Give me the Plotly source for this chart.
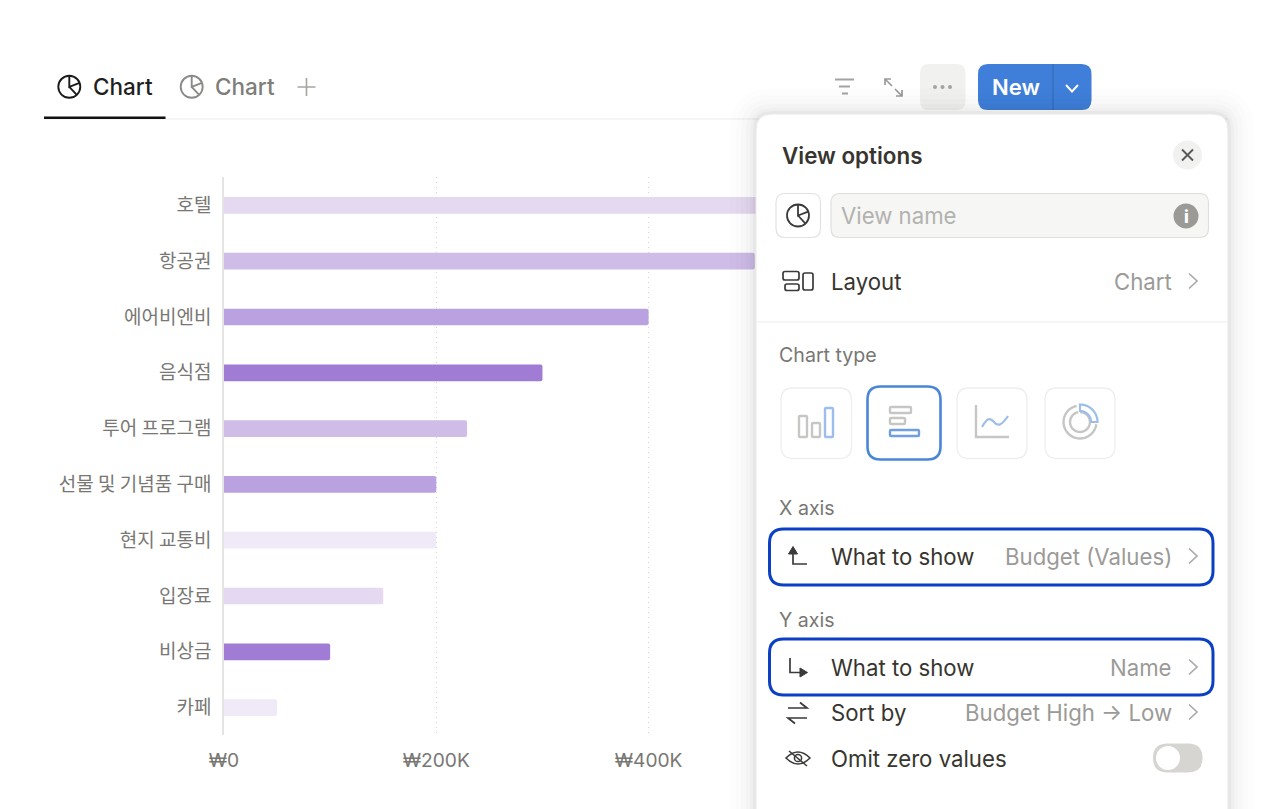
import math
import re
import plotly.graph_objects as go

# ---- chart data ----
categories = ["호텔", "항공권", "에어비엔비", "음식점", "투어 프로그램",
              "선물 및 기념품 구매", "현지 교통비", "입장료", "비상금", "카페"]
budget_k = [600, 500, 400, 300, 229, 200, 200, 150, 100, 50]
bar_colors = ["#E4D9F1", "#CFBDE8", "#BAA1E0", "#A07CD5", "#CFBDE8",
              "#BAA1E0", "#F0EAF8", "#E4D9F1", "#A07CD5", "#F0EAF8"]
tick_values = [0, 200, 400]
tick_labels = ["₩0", "₩200K", "₩400K"]

W, H = 1280, 809
L, R, T, B = 224, 0, 177, 74
PW, PH = W - L - R, H - T - B
LATIN = "Inter, 'Noto Sans', sans-serif"
CJK = "'Noto Sans CJK KR', 'Noto Sans', sans-serif"
INK, MUTED, FAINT = "#37352F", "#787774", "#9B9A97"


def px(x):
    return (x - L) / PW


def py(y):
    return (H - B - y) / PH


def P(d):
    """Pixel-space SVG path to paper-space path (absolute M/L/C/Q/Z only)."""
    out, is_x = [], True
    for tok in re.findall(r"[A-Za-z]|-?[\d.]+", d):
        if tok.isalpha():
            out.append(tok)
            is_x = True
        else:
            v = float(tok)
            out.append(f"{px(v) if is_x else py(v):.5f}")
            is_x = not is_x
    return " ".join(out)


shapes, notes = [], []


def path(d, line=None, width=1.5, fill=None):
    shapes.append(dict(type="path", xref="paper", yref="paper", layer="above", path=P(d),
                       fillcolor=fill or "rgba(0,0,0,0)",
                       line=dict(color=line or "rgba(0,0,0,0)", width=width if line else 0)))


def rr(x0, y0, x1, y1, r, line=None, width=1.5, fill=None):
    d = (f"M {x0+r} {y0} L {x1-r} {y0} Q {x1} {y0} {x1} {y0+r} L {x1} {y1-r} Q {x1} {y1} {x1-r} {y1} "
         f"L {x0+r} {y1} Q {x0} {y1} {x0} {y1-r} L {x0} {y0+r} Q {x0} {y0} {x0+r} {y0} Z")
    path(d, line, width, fill)


def circle(cx, cy, r, line=None, width=1.5, fill=None):
    shapes.append(dict(type="circle", xref="paper", yref="paper", layer="above",
                       x0=px(cx - r), x1=px(cx + r), y0=py(cy + r), y1=py(cy - r),
                       fillcolor=fill or "rgba(0,0,0,0)",
                       line=dict(color=line or "rgba(0,0,0,0)", width=width if line else 0)))


def arc(cx, cy, r, a0, a1, n=24):
    pts = []
    for i in range(n + 1):
        a = math.radians(a0 + (a1 - a0) * i / n)
        pts.append((cx + r * math.sin(a), cy - r * math.cos(a)))
    return pts


def poly(pts, close=False):
    s = "M " + " L ".join(f"{x:.2f} {y:.2f}" for x, y in pts)
    return s + (" Z" if close else "")


def text(x, y, s, size=22.2, color=INK, anchor="left", weight=400, family=LATIN):
    notes.append(dict(xref="paper", yref="paper", x=px(x), y=py(y), text=s, showarrow=False,
                      xanchor=anchor, yanchor="middle", borderpad=0,
                      font=dict(family=family, size=size, color=color, weight=weight)))


def pie(cx, cy, r, color, width=1.8):
    circle(cx, cy, r, color, width)
    path(f"M {cx} {cy-r} L {cx} {cy} L {cx+r*0.93} {cy-r*0.36}", color, width)
    path(f"M {cx} {cy} L {cx+r*0.68} {cy+r*0.74}", color, width)


def chevron(y, x=1189):
    path(f"M {x} {y-7.5} L {x+8} {y} L {x} {y+7.5}", "#ABABA8", 1.7)


# ---- tabs and toolbar ----
path("M 44 119 L 1228 119", "#EBEBE9", 1.2)
path("M 44 117.8 L 165.5 117.8", "#111111", 2.6)
pie(69.3, 86.8, 11, "#1A1A1A", 1.9)
text(91.5, 87, "Chart", 22.5, "#1F1F1F", weight=500)
pie(191.7, 86.8, 11, "#8A8A87", 1.9)
text(214, 87, "Chart", 22.5, "#7E7D7A", weight=500)
path("M 306.5 78 L 306.5 96 M 297.5 87 L 315.5 87", "#A5A5A2", 1.6)

path("M 835 79.5 L 854 79.5", "#A3A3A0", 2)
path("M 839 86.5 L 850 86.5", "#A3A3A0", 2)
path("M 842 93.5 L 848 93.5", "#A3A3A0", 2)
path("M 885 85 L 885 79 L 891 79 M 885 79 L 892 86", "#9A9A97", 1.7)
path("M 902 90 L 902 96 L 896 96 M 902 96 L 895 89", "#9A9A97", 1.7)
rr(920, 64, 965.5, 110, 9, fill="#F1F1EF")
for dot_x in (935, 942.5, 950):
    circle(dot_x, 87, 2, fill="#A3A3A0")
rr(978, 64, 1091.5, 110, 10, fill="#3F7FDA")
path("M 1053 64 L 1053 110", "#3369B8", 1.2)
text(1015.5, 87, "New", 22, "#FFFFFF", "center", 600)
path("M 1066 85 L 1072 91.5 L 1078 85", "#FFFFFF", 1.9)

# ---- panel: soft shadow, then body ----
for grow, alpha in ((26, .006), (20, .008), (15, .010), (10, .014), (6, .02), (3, .03)):
    rr(756 - grow, 114 - grow, 1228 + grow, 860, 16 + grow, fill=f"rgba(15,15,15,{alpha})")
rr(756, 114, 1228, 860, 16, "#E9E9E7", 1, "#FFFFFF")

text(781, 155.5, "View options", 22.4, INK, weight=600)
circle(1187.5, 155, 14.5, fill="#F1F1EF")
path("M 1182 149.5 L 1193 160.5 M 1193 149.5 L 1182 160.5", "#5A5956", 1.9)

rr(776, 193.5, 820.5, 237.5, 9, "#E2E2E0", 1.2, "#FFFFFF")
pie(798, 215.5, 11, "#3A3A38", 1.8)
rr(831, 193.5, 1208.5, 237.5, 9, "#DFDFDC", 1.2, "#F6F6F4")
text(840, 215.5, "View name", 22.2, "#B2B2AF")
circle(1186, 216, 12.5, fill="#9B9A97")
text(1186, 216.5, "i", 17, "#FFFFFF", "center", 800)

rr(783, 271.5, 799, 280, 2, "#3A3A38", 1.7)
rr(785, 284, 799, 290.5, 2, "#3A3A38", 1.7)
rr(803, 273, 813, 290, 2, "#3A3A38", 1.7)
text(830, 281, "Layout")
text(1173, 281, "Chart", color=FAINT, anchor="right")
chevron(281)
path("M 756 322 L 1228 322", "#EDEDEB", 1.2)

text(778, 354.5, "Chart type", 19.6, MUTED)
for x0, x1 in ((781, 851.5), (957, 1027), (1045, 1115)):
    rr(x0, 388, x1, 458.5, 12, "#EEEEEC", 1.3, "#FFFFFF")
rr(867.5, 386.5, 940.5, 459.5, 13, "#4A86D8", 2.6, "#FFFFFF")

GREY, BLUE = "#C6C6C4", "#9DBDEA"
rr(799, 416, 807, 437, 1, GREY, 2.4)
rr(812, 423, 820, 437, 1, GREY, 2.4)
rr(825, 408, 833, 437, 1, BLUE, 2.4)
rr(890, 407, 911, 413, 1, GREY, 2.4)
rr(890, 418, 905, 424, 1, GREY, 2.4)
rr(890, 430, 919, 436, 1, "#6F9FE0", 2.4)
path("M 976 405 L 976 437 L 1009 437", GREY, 2.4)
path("M 982 427 C 987 418 990 417 994 422 C 998 427 1002 425 1008 416", BLUE, 2.2)
path(poly(arc(1080, 422, 16.5, 98, 348)), GREY, 2.4)
path(poly(arc(1080, 422, 10, 0, 350)), GREY, 2.4)
path(poly(arc(1080, 422, 17.5, 0, 90) + arc(1080, 422, 11, 90, 0), True), BLUE, 2.2)

# ---- X axis row ----
text(778, 507.5, "X axis", 19.6, MUTED)
rr(769.5, 529, 1213, 585, 14, "#0B40C4", 3, "#FFFFFF")
path("M 793 549 L 793 564 L 807 564", "#3A3A38", 1.7)
path("M 788.5 554 L 793 546.5 L 797.5 554 Z", "#3A3A38", 1, "#3A3A38")
text(830, 556.5, "What to show")
text(1173, 556.5, "Budget (Values)", color=FAINT, anchor="right")
chevron(556)

# ---- Y axis rows ----
text(778, 619.5, "Y axis", 19.6, MUTED)
rr(769.5, 639, 1213, 695, 14, "#0B40C4", 3, "#FFFFFF")
path("M 790 658 L 790 672.5 L 802 672.5", "#3A3A38", 1.7)
path("M 800 668 L 807.5 672.5 L 800 677 Z", "#3A3A38", 1, "#3A3A38")
text(830, 667.5, "What to show")
text(1173, 667.5, "Name", color=FAINT, anchor="right")
chevron(667)

path("M 788 708 L 807 708 L 800 702.5", "#3A3A38", 1.7)
path("M 807 718 L 788 718 L 795 723.5", "#3A3A38", 1.7)
text(830, 712.5, "Sort by")
text(1173, 712.5, "Budget High → Low", color=FAINT, anchor="right")
chevron(712)

path("M 786 758 Q 798 746 810 758 Q 798 770 786 758 Z", "#3A3A38", 1.6)
circle(798, 758, 3.6, "#3A3A38", 1.5)
path("M 789 751 L 807 766", "#3A3A38", 1.5)
text(830, 758.5, "Omit zero values")
rr(1153, 743.5, 1202.5, 772.5, 14.5, fill="#D6D5D2")
circle(1168, 758, 12, fill="#FFFFFF")

# ---- figure ----
fig = go.Figure(go.Bar(
    x=budget_k, y=categories, orientation="h", width=0.3,
    marker=dict(color=bar_colors, cornerradius=2, line=dict(width=0)),
    hoverinfo="skip",
))
fig.update_layout(
    width=W, height=H, margin=dict(l=L, r=R, t=T, b=B, pad=0),
    paper_bgcolor="#FFFFFF", plot_bgcolor="#FFFFFF", showlegend=False,
    shapes=shapes, annotations=notes,
    xaxis=dict(range=[0, PW / 1.0615], tickmode="array", tickvals=tick_values, ticktext=tick_labels,
               showgrid=True, gridcolor="#D4D4D2", griddash="1px,4px", gridwidth=1,
               zeroline=False, showline=False, ticks="", ticklabelstandoff=12,
               tickfont=dict(family=LATIN, size=19.2, color=MUTED)),
    yaxis=dict(type="category", categoryorder="array", categoryarray=categories,
               range=[9.491, -0.509], showgrid=False, zeroline=False,
               showline=True, linecolor="#E4E4E2", linewidth=1.5, ticks="", ticklabelstandoff=7,
               tickfont=dict(family=CJK, size=19, color=MUTED)),
)
fig.write_html("out.html", config=dict(displayModeBar=False),
               post_script="document.body.style.margin='0';document.body.style.overflow='hidden';")
